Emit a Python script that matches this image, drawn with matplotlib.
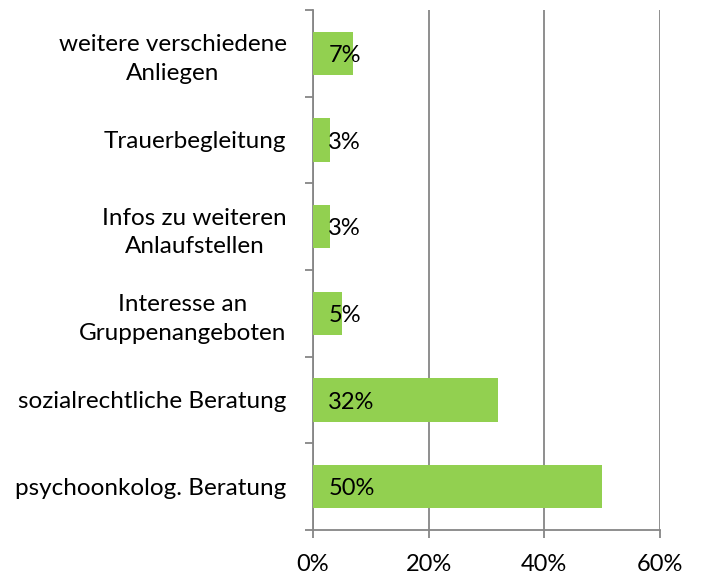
import matplotlib.pyplot as plt
from matplotlib.ticker import MultipleLocator, PercentFormatter

plt.rcParams['font.family'] = ['Lato', 'DejaVu Sans']

# Kategorien von unten nach oben
categories = [
    "psychoonkolog. Beratung",
    "sozialrechtliche Beratung",
    "Interesse an\nGruppenangeboten",
    "Infos zu weiteren\nAnlaufstellen",
    "Trauerbegleitung",
    "weitere verschiedene\nAnliegen",
]
values = [50, 32, 5, 3, 3, 7]
xticks = [0, 20, 40, 60]

grey = "#868686"
green = "#92D050"

fig = plt.figure(figsize=(7.02, 5.77), dpi=100)
ax = fig.add_axes([313 / 702, 47 / 577, 347 / 702, 520 / 577])

pos = range(len(categories))
ax.barh(pos, values, height=0.5, color=green, zorder=3)

for y, v in zip(pos, values):
    ax.annotate(f"{v}%", (0, y), xytext=(11, -1.5), textcoords="offset points",
                ha="left", va="center", fontsize=17, color="black", zorder=4)

ax.set_xlim(0, 60)
ax.set_ylim(-0.5, len(categories) - 0.5)
ax.set_xticks(xticks)
ax.xaxis.set_major_formatter(PercentFormatter(decimals=0))
ax.grid(axis="x", color=grey, linewidth=1.3, zorder=0)

ax.set_yticks(list(pos))
ax.set_yticklabels(categories, ha="right", multialignment="center", linespacing=1.45)
ax.yaxis.set_minor_locator(MultipleLocator(1, offset=0.5))
ax.tick_params(axis="y", which="major", length=0, pad=19, labelsize=17.5)
ax.tick_params(axis="y", which="minor", length=6, width=1.3, color=grey)
ax.tick_params(axis="x", length=6, width=1.3, color=grey, labelsize=17, pad=11)

for side in ["top", "right"]:
    ax.spines[side].set_visible(False)
for side in ["left", "bottom"]:
    ax.spines[side].set_color(grey)
    ax.spines[side].set_linewidth(1.3)

fig.savefig("out.png", dpi=100)
